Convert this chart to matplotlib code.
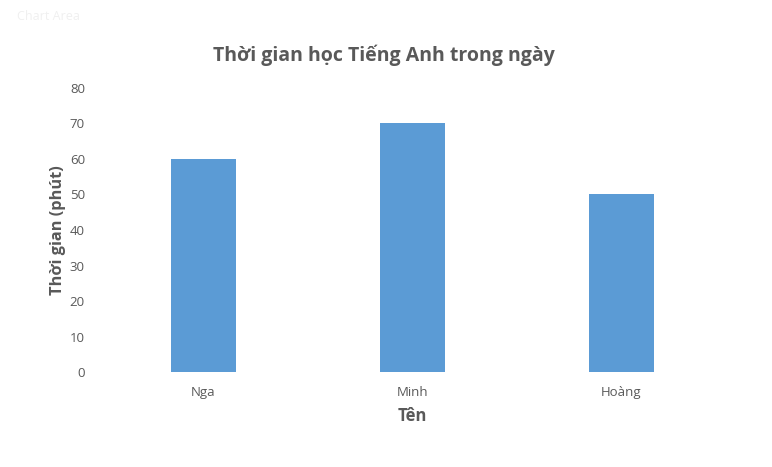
import matplotlib.pyplot as plt
import numpy as np

names = ["Nga", "Minh", "Hoàng"]
minutes = [60, 70, 50]
y_ticks = [0, 10, 20, 30, 40, 50, 60, 70, 80]

plt.rcParams['font.family'] = ['Open Sans', 'DejaVu Sans']
grey = "#595959"

fig = plt.figure(figsize=(7.72, 4.67), dpi=100)
ax = fig.add_axes([0.128, 0.203, 0.812, 0.609])

x = np.arange(len(names))
ax.bar(x, minutes, width=0.31, color="#5B9BD5")
ax.set_xlim(-0.5, len(names) - 0.5)
ax.set_ylim(0, 80)
ax.set_yticks(y_ticks)
ax.set_xticks(x)
ax.set_xticklabels(names)

for side in ax.spines.values():
    side.set_visible(False)
ax.tick_params(length=0, colors=grey, labelsize=9.5)
ax.tick_params(axis='y', pad=10)
ax.tick_params(axis='x', pad=10)

ax.set_xlabel("Tên", fontsize=12, fontweight='bold', color=grey, labelpad=6)
ax.set_ylabel("Thời gian (phút)", fontsize=11.8, fontweight='bold', color=grey)
ax.yaxis.set_label_coords(-0.052, 0.5)

fig.text(0.497, 0.882, "Thời gian học Tiếng Anh trong ngày", ha='center', va='center',
         fontsize=14, fontweight='bold', color=grey)
fig.text(0.022, 0.965, "Chart Area", ha='left', va='center', fontsize=9, color="#f0f0f0")

fig.savefig("out.png", dpi=100)
